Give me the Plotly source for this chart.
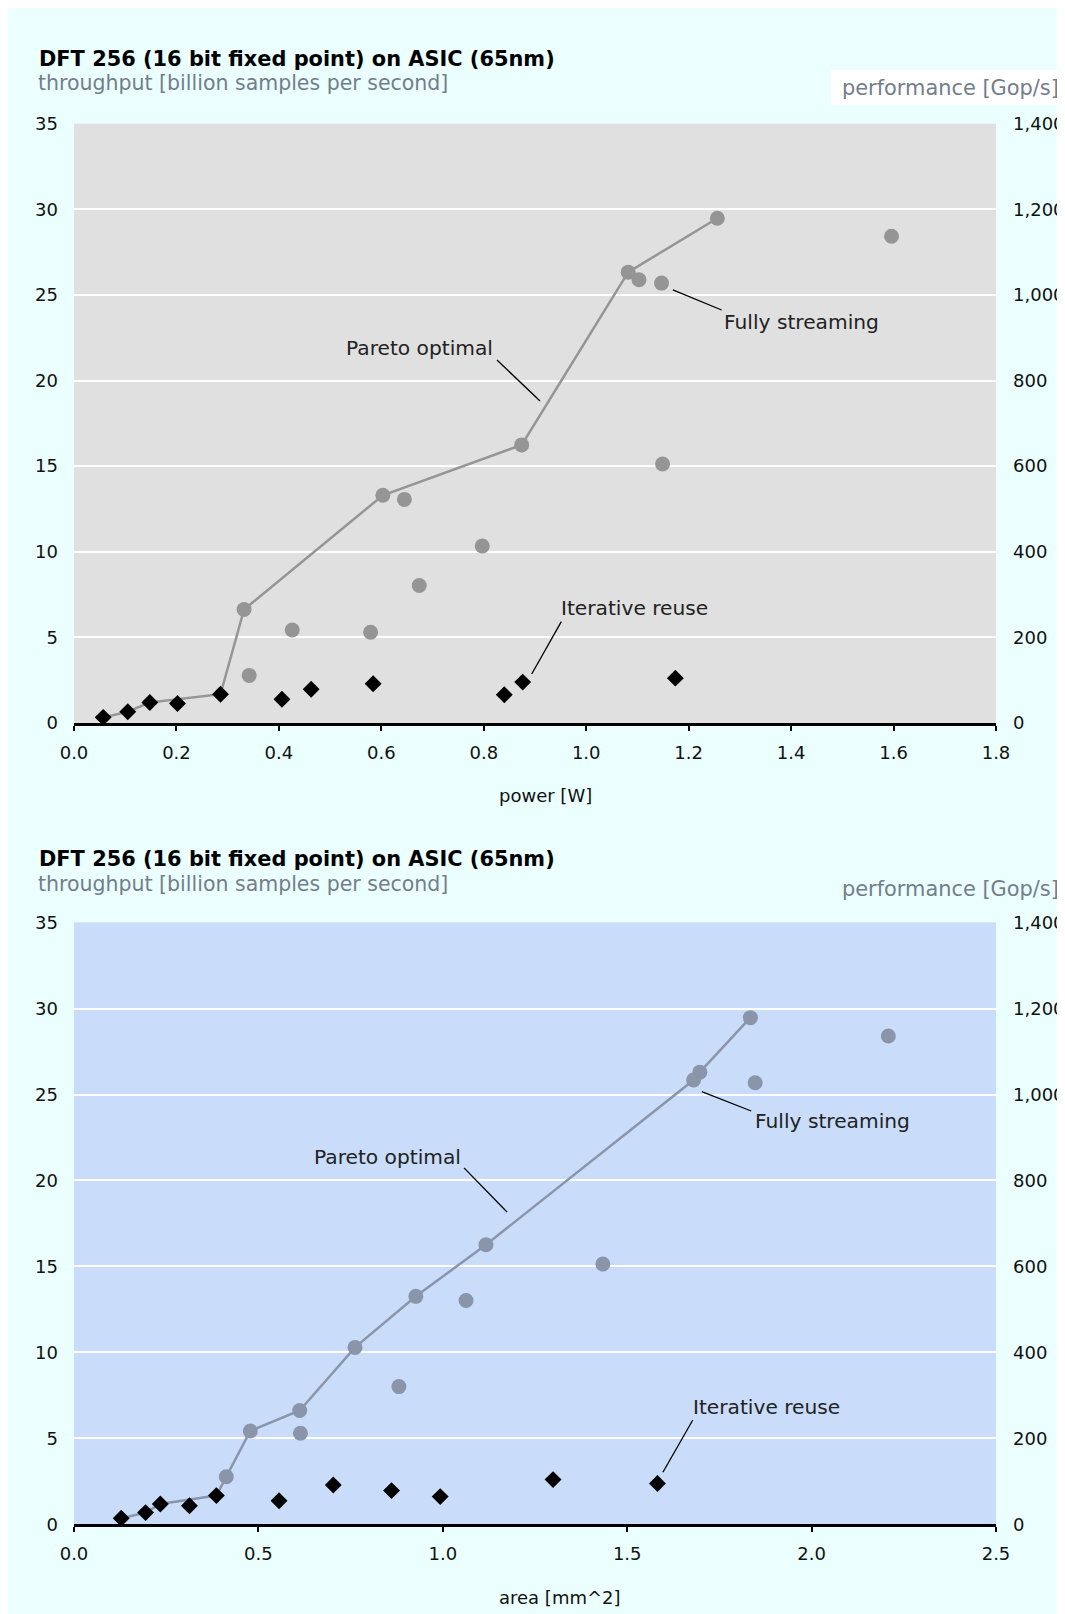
import plotly.graph_objects as go

# ---------------- data ----------------
stream_power = [0.332, 0.342, 0.426, 0.579, 0.603, 0.645, 0.674, 0.797, 0.874,
                1.082, 1.103, 1.147, 1.149, 1.256, 1.596]
stream_thr_p = [6.63, 2.78, 5.43, 5.30, 13.30, 13.06, 8.03, 10.34, 16.24,
                26.33, 25.89, 25.69, 15.13, 29.48, 28.43]
reuse_power = [0.057, 0.105, 0.148, 0.202, 0.286, 0.406, 0.463, 0.584, 0.840, 0.876, 1.174]
reuse_thr_p = [0.33, 0.66, 1.20, 1.14, 1.68, 1.39, 1.97, 2.29, 1.65, 2.39, 2.62]
pareto_power = [0.057, 0.105, 0.148, 0.286, 0.332, 0.603, 0.874, 1.082, 1.256]
pareto_thr_p = [0.33, 0.66, 1.20, 1.68, 6.63, 13.30, 16.24, 26.33, 29.48]

stream_area = [0.413, 0.478, 0.612, 0.614, 0.762, 0.881, 0.927, 1.063, 1.117,
               1.434, 1.680, 1.697, 1.834, 1.847, 2.208]
stream_thr_a = [2.77, 5.43, 6.62, 5.30, 10.29, 8.01, 13.26, 13.02, 16.26,
                15.14, 25.84, 26.30, 29.47, 25.68, 28.40]
reuse_area = [0.128, 0.194, 0.234, 0.313, 0.386, 0.556, 0.703, 0.861, 0.993, 1.299, 1.582]
reuse_thr_a = [0.35, 0.68, 1.18, 1.08, 1.67, 1.37, 2.29, 1.96, 1.61, 2.60, 2.37]
pareto_area = [0.128, 0.194, 0.234, 0.386, 0.413, 0.478, 0.612, 0.762, 0.927, 1.117, 1.680, 1.697, 1.834]
pareto_thr_a = [0.35, 0.68, 1.18, 1.67, 2.77, 5.43, 6.62, 10.29, 13.26, 16.26, 25.84, 26.30, 29.47]

y_ticks = [0, 5, 10, 15, 20, 25, 30, 35]
perf_ticks = [0, 200, 400, 600, 800, 1000, 1200, 1400]

TITLE = "DFT 256 (16 bit fixed point) on ASIC (65nm)"
SUBTITLE = "throughput [billion samples per second]"
RIGHT_TITLE = "performance [Gop/s]"

# ---------------- style ----------------
FONT = "DejaVu Sans"
PAGE_BG = "#EBFFFE"
GRAY_BG = "#E0E0E0"
BLUE_BG = "#C9DDFB"
GRAY_MK = "#959595"
BLUE_MK = "#8A95AA"
SUB_COL = "#737D8C"
W, H = 1065, 1614

fig = go.Figure()

def add_panel(xd, yname, y2name, pareto_x, pareto_y, sx, sy, rx, ry, col):
    fig.add_trace(go.Scatter(x=pareto_x, y=pareto_y, mode="lines", xaxis=xd, yaxis=yname,
                             line=dict(color=col, width=2.5), hoverinfo="skip", showlegend=False))
    fig.add_trace(go.Scatter(x=sx, y=sy, mode="markers", xaxis=xd, yaxis=yname,
                             marker=dict(symbol="circle", size=15, color=col), showlegend=False))
    fig.add_trace(go.Scatter(x=rx, y=ry, mode="markers", xaxis=xd, yaxis=yname,
                             marker=dict(symbol="diamond", size=13, color="black"), showlegend=False))
    # empty trace that only activates the right-hand performance axis
    fig.add_trace(go.Scatter(x=[], y=[], mode="markers", xaxis=xd, yaxis=y2name,
                             showlegend=False, hoverinfo="skip"))

add_panel("x", "y", "y2", pareto_power, pareto_thr_p, stream_power, stream_thr_p,
          reuse_power, reuse_thr_p, GRAY_MK)
add_panel("x2", "y3", "y4", pareto_area, pareto_thr_a, stream_area, stream_thr_a,
          reuse_area, reuse_thr_a, BLUE_MK)

xdom = [66 / W, 988 / W]
top_dom = [1 - 715 / H, 1 - 115.7 / H]
bot_dom = [1 - 1516.3 / H, 1 - 914.6 / H]

tickfont = dict(family=FONT, size=18, color="#111111")
xaxis_common = dict(domain=xdom, showline=True, linecolor="black", linewidth=3,
                    ticks="outside", ticklen=5, tickwidth=2, tickcolor="black",
                    showgrid=False, zeroline=False, tickformat=".1f", automargin=False,
                    tickfont=tickfont, ticklabelstandoff=6)
yaxis_common = dict(range=[0, 35], tickvals=y_ticks, showgrid=True, gridcolor="white",
                    gridwidth=2, zeroline=False, showline=False, ticks="", automargin=False,
                    tickfont=tickfont, ticklabelstandoff=15)
y2_common = dict(range=[0, 1400], tickvals=perf_ticks, tickformat=",", showgrid=False,
                 zeroline=False, showline=False, ticks="", side="right", automargin=False,
                 tickfont=tickfont, ticklabelstandoff=16)

fig.update_layout(
    width=W, height=H,
    margin=dict(l=0, r=0, t=0, b=0, pad=0),
    paper_bgcolor=PAGE_BG,
    plot_bgcolor=GRAY_BG,
    font=dict(family=FONT, color="#222222"),
    hovermode=False,
    xaxis=dict(xaxis_common, range=[0, 1.8], dtick=0.2, anchor="y"),
    yaxis=dict(yaxis_common, domain=top_dom, anchor="x"),
    yaxis2=dict(y2_common, domain=top_dom, anchor="x", overlaying="y"),
    xaxis2=dict(xaxis_common, range=[0, 2.5], dtick=0.5, anchor="y3"),
    yaxis3=dict(yaxis_common, domain=bot_dom, anchor="x2"),
    yaxis4=dict(y2_common, domain=bot_dom, anchor="x2", overlaying="y3"),
)

shapes = []
shapes.append(dict(type="rect", xref="x2 domain", yref="y3 domain", x0=0, x1=1, y0=0, y1=1,
                   fillcolor=BLUE_BG, line=dict(width=0), layer="below"))
shapes.append(dict(type="rect", xref="paper", yref="paper", x0=823 / W, x1=1.0,
                   y0=1 - 97 / H, y1=1 - 62 / H, fillcolor="white", line=dict(width=0),
                   layer="below"))

annotations = []

def header(y_title, y_sub, y_right):
    annotations.append(dict(text="<b>" + TITLE + "</b>", xref="paper", yref="paper",
                            x=29 / W, y=1 - y_title / H, xanchor="left", yanchor="middle",
                            showarrow=False, font=dict(family=FONT, size=20.9, color="#000000")))
    annotations.append(dict(text=SUBTITLE, xref="paper", yref="paper",
                            x=28 / W, y=1 - y_sub / H, xanchor="left", yanchor="middle",
                            showarrow=False, font=dict(family=FONT, size=20.5, color=SUB_COL)))
    annotations.append(dict(text=RIGHT_TITLE, xref="paper", yref="paper",
                            x=1053 / W, y=1 - y_right / H, xanchor="right", yanchor="middle",
                            showarrow=False, font=dict(family=FONT, size=20.9, color=SUB_COL)))

header(50.7, 75, 79.5)
header(851.2, 876, 881)

annotations.append(dict(text="power [W]", xref="paper", yref="paper", x=488.5 / W,
                        y=1 - 787.4 / H, xanchor="left", yanchor="middle", showarrow=False,
                        font=dict(family=FONT, size=18, color="#111111")))
annotations.append(dict(text="area [mm^2]", xref="paper", yref="paper", x=488.5 / W,
                        y=1 - 1589 / H, xanchor="left", yanchor="middle", showarrow=False,
                        font=dict(family=FONT, size=18, color="#111111")))

callouts_top = [
    ("Pareto optimal", 0.5278, 21.88, 0.8258, 21.20, 0.9098, 18.80),
    ("Fully streaming", 1.2660, 23.44, 1.1692, 25.29, 1.2643, 24.12),
    ("Iterative reuse", 0.9474, 6.70, 0.9514, 5.92, 0.8936, 2.86),
]
callouts_bot = [
    ("Pareto optimal", 0.6453, 21.37, 1.0575, 20.73, 1.1741, 18.17),
    ("Fully streaming", 1.8410, 23.48, 1.7023, 25.17, 1.8362, 24.04),
    ("Iterative reuse", 1.6743, 6.84, 1.6779, 6.07, 1.5968, 3.03),
]
for (xr, yr), items in ((("x", "y"), callouts_top), (("x2", "y3"), callouts_bot)):
    for text, tx, ty, lx0, ly0, lx1, ly1 in items:
        annotations.append(dict(text=text, xref=xr, yref=yr, x=tx, y=ty, xanchor="left",
                                yanchor="middle", showarrow=False,
                                font=dict(family=FONT, size=20.2, color="#222222")))
        shapes.append(dict(type="line", xref=xr, yref=yr, x0=lx0, y0=ly0, x1=lx1, y1=ly1,
                           line=dict(color="black", width=1.3)))

fig.update_layout(shapes=shapes, annotations=annotations)

fig.write_html("out.html", config={"displayModeBar": False})
